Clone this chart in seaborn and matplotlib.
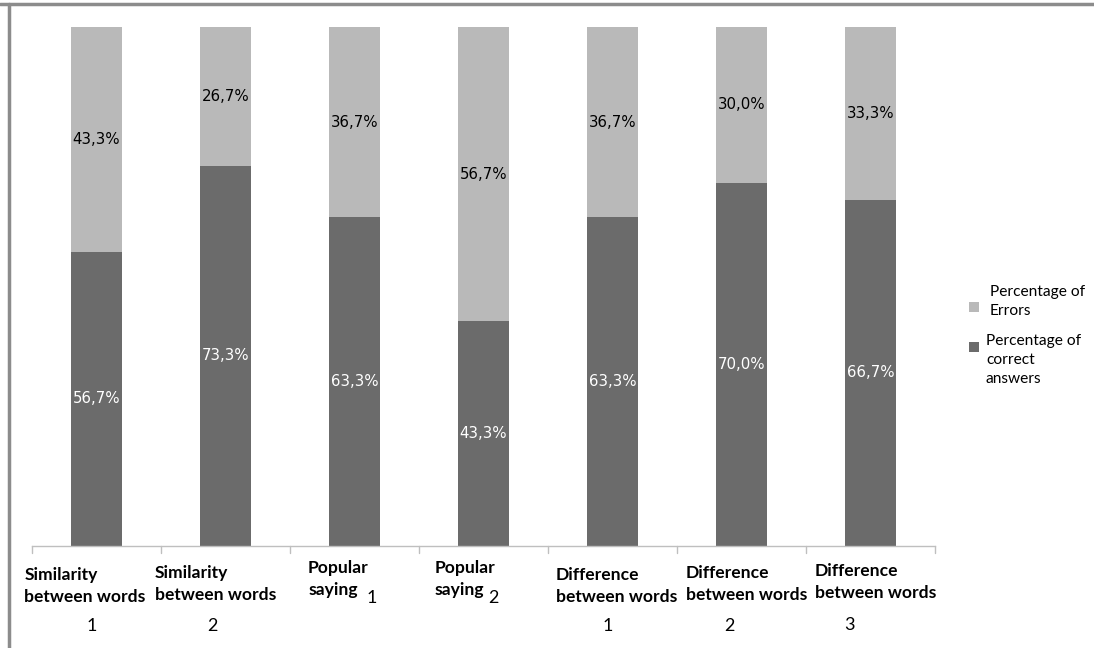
import matplotlib
matplotlib.use("Agg")
import matplotlib.pyplot as plt
import matplotlib.transforms as mtransforms
from matplotlib.patches import Rectangle
from matplotlib.lines import Line2D
import seaborn as sns
import pandas as pd

# Task groups, their item numbers and the shares of answers
names = ["Similarity\nbetween words", "Similarity\nbetween words",
         "Popular\nsaying", "Popular\nsaying",
         "Difference\nbetween words", "Difference\nbetween words",
         "Difference\nbetween words"]
numbers = ["1", "2", "1", "2", "1", "2", "3"]
correct = [56.7, 73.3, 63.3, 43.3, 63.3, 70.0, 66.7]
errors = [43.3, 26.7, 36.7, 56.7, 36.7, 30.0, 33.3]
legend_labels = ["Percentage of\nErrors", "Percentage of\ncorrect\nanswers"]

DARK = "#6b6b6b"
LIGHT = "#b9b9b9"

sns.set_theme(style="white")
plt.rcParams["font.family"] = ["DejaVu Sans"]

W, H = 1094, 648
fig = plt.figure(figsize=(W / 100, H / 100), dpi=100)
ax = fig.add_axes([32 / W, 1 - 546 / H, (935 - 32) / W, (546 - 27) / H])

df = pd.DataFrame({
    "pos": list(range(len(correct))),
    "correct": correct,
    "total": [c + e for c, e in zip(correct, errors)],
})

# Stacked bars: full height in light grey, correct share drawn on top in dark grey
sns.barplot(data=df, x="pos", y="total", color=LIGHT, width=0.40,
            saturation=1, ax=ax, native_scale=True, linewidth=0)
sns.barplot(data=df, x="pos", y="correct", color=DARK, width=0.40,
            saturation=1, ax=ax, native_scale=True, linewidth=0)

ax.set_xlim(-0.5, len(correct) - 0.5)
ax.set_ylim(0, 100)
ax.set_xlabel("")
ax.set_ylabel("")
ax.set_yticks([])
ax.set_xticks([])
for side in ["top", "right", "left"]:
    ax.spines[side].set_visible(False)
ax.spines["bottom"].set_color("#bfbfbf")
ax.spines["bottom"].set_linewidth(1.0)

# Category separator ticks below the axis
xt = mtransforms.blended_transform_factory(ax.transData, fig.transFigure)
for b in [i - 0.5 for i in range(len(correct) + 1)]:
    ax.add_line(Line2D([b, b], [1 - 546 / H, 1 - 553 / H], transform=xt,
                       color="#bfbfbf", lw=1.0, clip_on=False))

# Value labels in the middle of each segment
for i, (c, e) in enumerate(zip(correct, errors)):
    ax.text(i, c / 2, f"{c:.1f}%".replace(".", ","), ha="center", va="center",
            color="white", fontsize=10.8)
    ax.text(i, c + e / 2, f"{e:.1f}%".replace(".", ","), ha="center", va="center",
            color="black", fontsize=10.8)

# Category labels, one line at a time
name_dx = [-0.56, -0.55, -0.36, -0.38, -0.44, -0.43, -0.43]
name_top = [575, 573, 568, 568, 575, 573, 571]
line_step = 22
num_dx = [-0.04, -0.10, 0.13, 0.08, -0.04, -0.09, -0.16]
num_y = [626, 626, 598, 598, 626, 626, 625]
for i, (nm, num) in enumerate(zip(names, numbers)):
    for k, part in enumerate(nm.split("\n")):
        ax.text(i + name_dx[i], 1 - (name_top[i] + k * line_step) / H, part,
                transform=xt, ha="left", va="center", fontsize=12.6,
                fontweight="bold", family="Lato", color="black")
    ax.text(i + num_dx[i], 1 - num_y[i] / H, num, transform=xt,
            ha="center", va="center", fontsize=13, family="Lato",
            color="black")

# Legend: colour squares with their captions
key_colors = [LIGHT, DARK]
key_box_top = [302, 342]
key_text_x = [990, 986]
key_text_top = [285, 334]
for col, bt, tx, tt, lab in zip(key_colors, key_box_top, key_text_x,
                                key_text_top, legend_labels):
    fig.add_artist(Rectangle((969 / W, 1 - (bt + 10) / H), 10 / W, 10 / H,
                             transform=fig.transFigure, facecolor=col,
                             edgecolor="none"))
    fig.text(tx / W, 1 - tt / H, lab, ha="left", va="top",
             family="Lato", fontsize=11.2, linespacing=1.45, color="black")

# Frame lines at top and left of the figure
fig.add_artist(Line2D([0, 1], [1 - 3.5 / H, 1 - 3.5 / H],
                      transform=fig.transFigure, color="#8c8c8c", lw=2.5))
fig.add_artist(Line2D([8.5 / W, 8.5 / W], [0, 1 - 3.5 / H],
                      transform=fig.transFigure, color="#8c8c8c", lw=2.5))

fig.savefig("out.png", dpi=100, facecolor="white")
